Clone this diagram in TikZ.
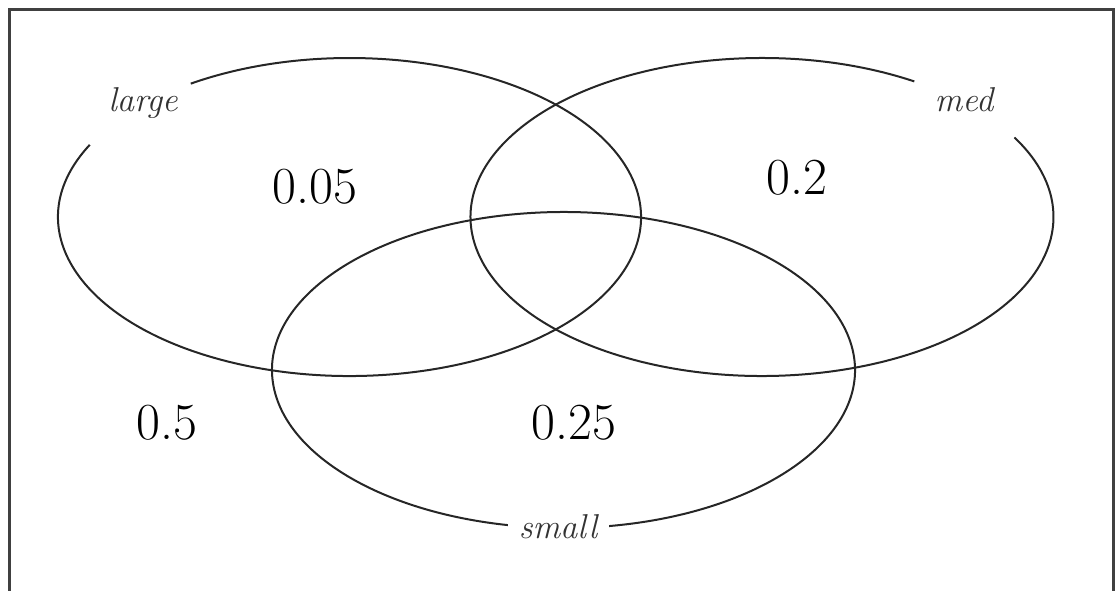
\documentclass[tikz,border=0pt]{standalone}
\usepackage{fontspec}
\begin{document}
\begin{tikzpicture}[x=1pt,y=-1pt,
  venn/.style={line width=2pt, black!85},
  setlabel/.style={inner sep=0pt, font=\fontsize{34.5}{40}\selectfont\itshape, text=black!80},
  prob/.style={inner sep=0pt, font=\fontsize{52}{60}\selectfont}]
\useasboundingbox (0,0) rectangle (1116,590);
% frame
\draw[line width=3pt, black!75] (9,600) -- (9,9) -- (1113,9) -- (1113,600);
% ellipses with gaps for labels
\coordinate (cl) at (349.5,217);
\coordinate (cm) at (762,217);
\coordinate (cs) at (563.5,370);
\draw[venn] (cl) ++({291.5*cos(153)},{-159*sin(153)}) arc[start angle=153, end angle=483, x radius=291.5, y radius=-159];
\draw[venn] (cm) ++({291.5*cos(58.5)},{-159*sin(58.5)}) arc[start angle=58.5, end angle=390, x radius=291.5, y radius=-159];
\draw[venn] (cs) ++({291.5*cos(279)},{-158*sin(279)}) arc[start angle=279, end angle=619, x radius=291.5, y radius=-158];
% labels
\node[setlabel] (large) at (143,103) {large};
\node[setlabel] (med) at (964,100) {med};
\node[setlabel] (small) at (558,526.5) {small};
% probabilities
\node[prob] (pl) at (315,186.5) {0.05};
\node[prob] (pm) at (797,178) {0.2};
\node[prob] (pn) at (167,423) {0.5};
\node[prob] (ps) at (574,423) {0.25};
\end{tikzpicture}
\end{document}
